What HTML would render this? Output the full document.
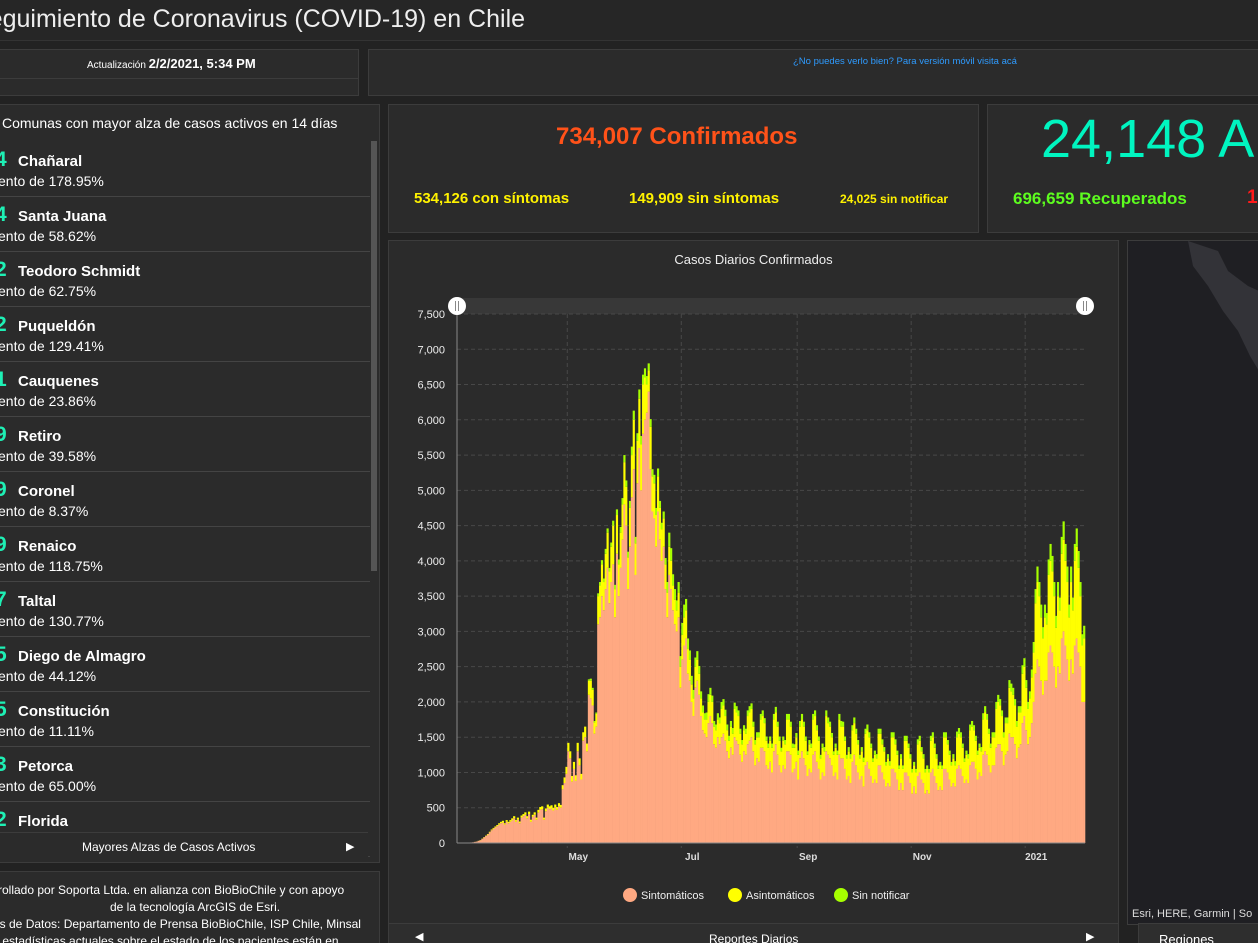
<!DOCTYPE html>
<html><head><meta charset="utf-8">
<style>
*{box-sizing:border-box;margin:0;padding:0}
html,body{width:1258px;height:943px;overflow:hidden}
body{background:#222;position:relative;font-family:"Liberation Sans",sans-serif;color:#fff}
#root{position:absolute;left:0;top:0;width:1258px;height:943px;overflow:hidden}
.p{position:absolute;background:#2b2b2b;border:1px solid #3c3c3c;overflow:hidden}
.t{position:absolute;white-space:nowrap}
.item{position:absolute;left:0;width:370px;height:55px;border-bottom:1px solid #444}
.item .d{position:absolute;left:-5px;top:6px;font-size:21px;font-weight:bold;color:#1ef0b5}
.item .n{position:absolute;left:18px;top:11px;font-size:15px;font-weight:bold}
.item .s{position:absolute;left:-2px;top:31px;font-size:14px}
</style></head><body>
<div id="root">
<div class="p" style="left:0;top:0;width:1258px;height:41px;background:#262626;border-color:#333;border-top:0;border-left:0;border-right:0">
<div class="t" style="left:-28px;top:5px;font-size:25px;color:#eee">Seguimiento de Coronavirus (COVID-19) en Chile</div></div>

<div class="p" style="left:0;top:49px;width:359px;height:47px;border-left:0">
<div style="position:absolute;left:0;top:28px;width:100%;border-top:1px solid #3c3c3c"></div>
<div class="t" style="left:87px;top:6px;font-size:10px">Actualización <b style="font-size:13px">2/2/2021, 5:34 PM</b></div></div>
<div class="p" style="left:368px;top:49px;width:890px;height:47px;border-right:0">
<div class="t" style="left:424px;top:6px;font-size:9.5px;color:#2e9bff">¿No puedes verlo bien? Para versión móvil visita acá</div></div>

<div class="p" style="left:0;top:104px;width:380px;height:759px;border-left:0">
<div class="t" style="left:2px;top:10px;font-size:14px">Comunas con mayor alza de casos activos en 14 días</div>
<div style="position:absolute;left:371px;top:36px;width:6px;height:430px;background:#555"></div>
<div id="list" style="position:absolute;left:0;top:37px"></div>
<div style="position:absolute;left:0;top:727px;width:368px;height:32px;background:#2b2b2b;border-top:1px solid #3c3c3c"></div>
<div class="t" style="left:82px;top:735px;font-size:12px">Mayores Alzas de Casos Activos</div>
<div class="t" style="left:346px;top:735px;font-size:11px">▶</div></div>

<div class="p" style="left:0;top:871px;width:380px;height:72px;font-size:12px;line-height:18px;border-left:0;border-bottom:0">
<div class="t" style="left:-6px;top:9px">rrollado por Soporta Ltda. en alianza con BioBioChile y con apoyo</div>
<div class="t" style="left:110px;top:26px">de la tecnología ArcGIS de Esri.</div>
<div class="t" style="left:-7px;top:43px">es de Datos: Departamento de Prensa BioBioChile, ISP Chile, Minsal</div>
<div class="t" style="left:-7px;top:60px">s estadísticas actuales sobre el estado de los pacientes están en</div></div>

<div class="p" style="left:388px;top:104px;width:591px;height:129px">
<div class="t" style="left:167px;top:18px;font-size:24px;font-weight:bold;color:#ff5219">734,007 Confirmados</div>
<div class="t" style="left:25px;top:85px;font-size:15px;font-weight:bold;color:#fff200">534,126 con síntomas</div>
<div class="t" style="left:240px;top:85px;font-size:15px;font-weight:bold;color:#fff200">149,909 sin síntomas</div>
<div class="t" style="left:451px;top:87px;font-size:12px;font-weight:bold;color:#fff200">24,025 sin notificar</div></div>

<div class="p" style="left:987px;top:104px;width:271px;height:129px;border-right:0">
<div class="t" style="left:53px;top:3px;font-size:54px;color:#00f5c0">24,148 A</div>
<div class="t" style="left:25px;top:84px;font-size:17px;font-weight:bold;color:#5dfc1f">696,659 Recuperados</div>
<div class="t" style="left:259px;top:82px;font-size:19px;font-weight:bold;color:#ff1a1a">18,</div></div>

<div class="p" style="left:388px;top:240px;width:731px;height:684px">
<div class="t" style="left:0;width:729px;text-align:center;top:11px;font-size:13px;color:#eee">Casos Diarios Confirmados</div></div>
<div class="p" style="left:388px;top:923px;width:731px;height:20px;background:#2e2e2e;border-bottom:0">
<div class="t" style="left:26px;top:6px;font-size:11px">◀</div>
<div class="t" style="left:320px;top:8px;font-size:12px">Reportes Diarios</div>
<div class="t" style="left:697px;top:6px;font-size:11px">▶</div></div>

<div class="p" style="left:1127px;top:240px;width:131px;height:685px;background:#1f1f23;border-right:0">
<svg width="131" height="200" style="position:absolute;left:0;top:0"><path d="M60 0 L90 10 L100 30 L120 45 L131 50 L131 130 L122 115 L110 90 L95 70 L80 45 L65 25Z" fill="#333338"/></svg>
<div class="t" style="left:4px;top:667px;font-size:11px;color:#ddd">Esri, HERE, Garmin | So</div></div>
<div class="p" style="left:1138px;top:923px;width:120px;height:20px;background:#2e2e2e;border-right:0;border-bottom:0">
<div class="t" style="left:20px;top:8px;font-size:13px">Regiones</div></div>

<svg id="chart" width="1258" height="943" style="position:absolute;left:0;top:0;pointer-events:none"></svg>
</div>
<script>
const comunas=[["4","Chañaral","178.95"],["4","Santa Juana","58.62"],["2","Teodoro Schmidt","62.75"],["2","Puqueldón","129.41"],["1","Cauquenes","23.86"],["9","Retiro","39.58"],["9","Coronel","8.37"],["9","Renaico","118.75"],["7","Taltal","130.77"],["5","Diego de Almagro","44.12"],["5","Constitución","11.11"],["3","Petorca","65.00"],["2","Florida",""]];
const list=document.getElementById('list');
comunas.forEach((c,i)=>{const d=document.createElement('div');d.className='item';d.style.top=(i*55)+'px';


d.innerHTML='<span class="d">'+c[0]+'</span><span class="n">'+c[1]+'</span>'+(c[2]?'<span class="s">ento de '+c[2]+'%</span>':'');list.appendChild(d);});

// Chart data: daily from 2020-03-03
const sintomaticos=[
0,0,1,1,2,3,5, 8,10,15,20,30,40,60, 80,100,120,150,180,200,220, 240,260,280,290,260,300,280,
300,320,350,300,330,280,360, 380,400,350,410,300,370,400, 330,430,470,480,330,450,500, 480,490,460,500,470,520,500,
760,850,980,1300,1200,870,1050, 880,1300,1100,900,1450,1500,1300, 2100,2050,1950,1550,1650,3100,3200, 3500,3300,3600,3900,3400,3700,3950,
3200,4100,3500,3900,4300,4800,4500, 3600,4200,4900,5300,3800,5100,5600, 5000,5800,6000,6100,6400,5300,4700, 4600,4200,4700,4300,4000,4200,3600,
3200,3800,3600,3300,3100,3000,3200, 2200,2600,2800,2900,2400,2300,2000, 1800,2200,2300,2100,1800,1600,1550, 1500,1700,1800,1700,1400,1350,1500,
1400,1500,1550,1450,1300,1200,1350, 1250,1500,1450,1400,1250,1150,1300, 1250,1400,1450,1500,1300,1100,1200, 1150,1350,1350,1300,1100,1050,1150,
1000,1300,1400,1250,1100,1000,1100, 1050,1300,1300,1250,1000,1050,1150, 900,1200,1300,1200,1100,950,1050, 1000,1250,1300,1150,1050,900,1000,
950,1300,1250,1200,1100,950,1000, 900,1250,1200,1200,1050,900,950, 850,1150,1250,1100,1000,900,950, 800,1100,1150,1050,950,850,900,
850,1100,1100,1000,900,800,850, 800,1050,1050,1000,900,750,850, 750,1000,1000,950,850,700,800, 700,950,1000,900,850,700,750,
700,1000,1050,950,850,750,800, 750,1050,1050,1000,900,800,850, 800,1050,1100,1050,950,850,900, 850,1100,1150,1150,1050,900,1000,
950,1250,1300,1250,1100,1000,1100, 1100,1350,1400,1400,1300,1100,1250, 1300,1550,1500,1500,1400,1200,1350, 1400,1700,1800,1600,1400,1500,1700,
2000,2400,2600,2500,2300,2100,2300, 2300,2700,2800,2700,2500,2200,2500, 2400,2900,3000,2800,2600,2300,2600, 2400,2800,2900,2700,2500,2000,2000];
const asintomaticos=[
0,0,0,0,0,0,0, 0,0,1,1,2,3,4, 5,6,8,10,12,14,15, 15,20,20,25,20,25,20,
25,30,30,25,30,25,30, 30,35,30,35,30,30,35, 30,40,40,40,30,40,45, 40,45,40,45,40,45,40,
60,80,100,120,100,80,100, 80,120,100,80,120,150,110, 200,250,220,160,180,400,450, 450,400,500,500,450,500,550,
400,550,450,500,500,600,550, 450,550,600,700,450,600,700, 650,700,600,400,300,600,500, 500,450,500,450,450,400,350,
350,400,400,350,350,300,350, 300,350,400,400,350,300,250, 250,300,300,300,250,250,200, 250,300,300,300,250,250,250,
300,400,400,350,300,250,300, 300,400,400,400,300,250,300, 300,400,400,400,350,300,300, 350,400,450,400,350,300,300,
350,450,450,400,350,300,350, 350,450,450,400,350,300,350, 350,450,450,450,350,300,350, 350,500,500,450,400,300,350,
350,500,450,450,400,300,350, 350,500,450,450,400,300,350, 350,450,450,450,400,300,350, 350,450,450,450,400,300,350,
350,450,450,400,400,300,350, 300,450,450,400,350,300,350, 300,450,450,400,350,300,300, 300,450,450,400,350,300,300,
300,450,450,400,350,300,300, 300,450,450,400,350,300,350, 300,450,450,450,400,300,350, 350,500,500,450,400,350,350,
350,500,550,500,450,350,400, 400,550,600,550,500,400,450, 400,650,650,600,550,450,500, 450,700,700,600,500,550,650,
700,1000,1100,1000,900,800,900, 800,1100,1200,1150,1000,850,1000, 900,1200,1300,1200,1100,900,1100, 900,1200,1300,1200,1000,800,900];
const sinNotificar=[
0,0,0,0,0,0,0, 0,0,0,0,0,0,0, 0,0,0,0,0,0,0, 0,0,0,0,0,0,0,
0,0,0,0,0,0,0, 0,0,0,0,0,0,0, 0,0,0,0,0,0,0, 0,0,0,0,0,0,0,
0,0,0,0,0,0,0, 0,0,0,0,0,0,0, 20,30,30,20,20,40,50, 60,50,70,60,50,60,70,
60,80,70,80,90,100,90, 80,100,120,130,90,110,130, 120,140,130,120,100,110,100, 120,100,110,100,90,100,90,
150,200,180,160,150,140,150, 150,170,180,160,150,130,120, 120,130,120,110,100,100,90, 100,110,100,90,80,80,90,
80,100,90,90,80,70,80, 80,90,90,80,70,60,70, 70,80,90,80,70,60,70, 70,80,80,70,60,60,60,
60,80,80,70,60,50,60, 60,80,80,70,60,50,60, 60,80,80,70,60,50,60, 60,80,80,70,60,50,60,
60,80,80,70,60,50,60, 60,80,80,70,60,50,60, 60,70,80,70,60,50,60, 60,70,80,70,60,50,60,
60,70,70,70,60,50,60, 60,70,70,70,60,50,60, 50,70,70,60,60,50,50, 50,70,70,60,60,50,50,
50,70,70,60,60,50,50, 50,70,70,60,60,50,60, 60,80,80,70,60,50,60, 60,80,80,70,70,60,60,
60,90,90,80,70,60,70, 70,100,100,90,80,70,80, 80,110,110,100,90,80,90, 90,120,120,110,100,100,110,
150,200,220,200,180,160,180, 160,220,240,220,200,170,200, 180,240,260,240,220,180,220, 180,240,260,240,200,160,180];
const yTicks=[0,500,1000,1500,2000,2500,3000,3500,4000,4500,5000,5500,6000,6500,7000,7500];
const xTickLabels=["May","Jul","Sep","Nov","2021"];
const xTickDays=[59,120,182,243,304];
const legendLabels=["Sintomáticos","Asintomáticos","Sin notificar"];
const colors=["#ffa982","#ffff00","#a6ff00"];

const X0=457,X1=1085,Y0=843,Y1=314,ND=sintomaticos.length;
const xs=d=>X0+d*(X1-X0)/ND;
const ys=v=>Y0-v*(Y0-Y1)/7500;
const svg=document.getElementById('chart');const NS='http://www.w3.org/2000/svg';
function mk(tag,at,txt){const e=document.createElementNS(NS,tag);for(const k in at)e.setAttribute(k,at[k]);if(txt!==undefined)e.textContent=txt;svg.appendChild(e);return e;}
let e;
e=mk('rect',{x:X0,y:298,width:X1-X0,height:16,fill:'#383838'});


yTicks.forEach(v=>{
 if(v>0){e=mk('line',{x1:X0,x2:X1,y1:ys(v),y2:ys(v),stroke:'#484848','stroke-dasharray':'4,3'});
 
 }
 e=mk('text',{x:445,y:ys(v)+4,'text-anchor':'end','font-size':'11','fill':'#eee','font-family':'Liberation Sans'},v.toLocaleString('en-US'));
 
 
});
xTickDays.forEach((d,i)=>{
 e=mk('line',{x1:xs(d),x2:xs(d),y1:Y1,y2:Y0+5,stroke:'#484848','stroke-dasharray':'4,3'});
 
 
 e=mk('text',{x:xs(d)+11,y:860,'text-anchor':'middle','font-size':'10','font-weight':'bold','fill':'#ddd','font-family':'Liberation Sans'},xTickLabels[i]);
 
 
});
const bw=(X1-X0)/ND+0.3;
for(let d=0;d<ND;d++){
 const s=sintomaticos[d],a=asintomaticos[d],n=sinNotificar[d];
 e=mk('rect',{x:xs(d),y:ys(s),width:bw,height:Y0-ys(s),fill:colors[0]});
 
 
 e=mk('rect',{x:xs(d),y:ys(s+a),width:bw,height:ys(s)-ys(s+a),fill:colors[1]});
 
 
 e=mk('rect',{x:xs(d),y:ys(s+a+n),width:bw,height:ys(s+a)-ys(s+a+n),fill:colors[2]});
 
 
}
e=mk('line',{x1:X0,x2:X0,y1:Y1,y2:Y0,stroke:'#888'});


e=mk('line',{x1:X0,x2:X1,y1:Y0,y2:Y0,stroke:'#888'});


[X0,X1].forEach(x=>{
 e=mk('circle',{cx:x,cy:306,r:9,fill:'#fff'});
 
 
 mk('line',{x1:x-1.5,x2:x-1.5,y1:301,y2:311,stroke:'#888'});mk('line',{x1:x+1.5,x2:x+1.5,y1:301,y2:311,stroke:'#888'});
});
const lx=[630,735,841];
legendLabels.forEach((l,i)=>{
 e=mk('circle',{cx:lx[i],cy:895,r:7,fill:colors[i]});
 
 
 e=mk('text',{x:lx[i]+11,y:899,'font-size':'11','fill':'#eee','font-family':'Liberation Sans'},l);
 
 
});
</script>
</body></html>
